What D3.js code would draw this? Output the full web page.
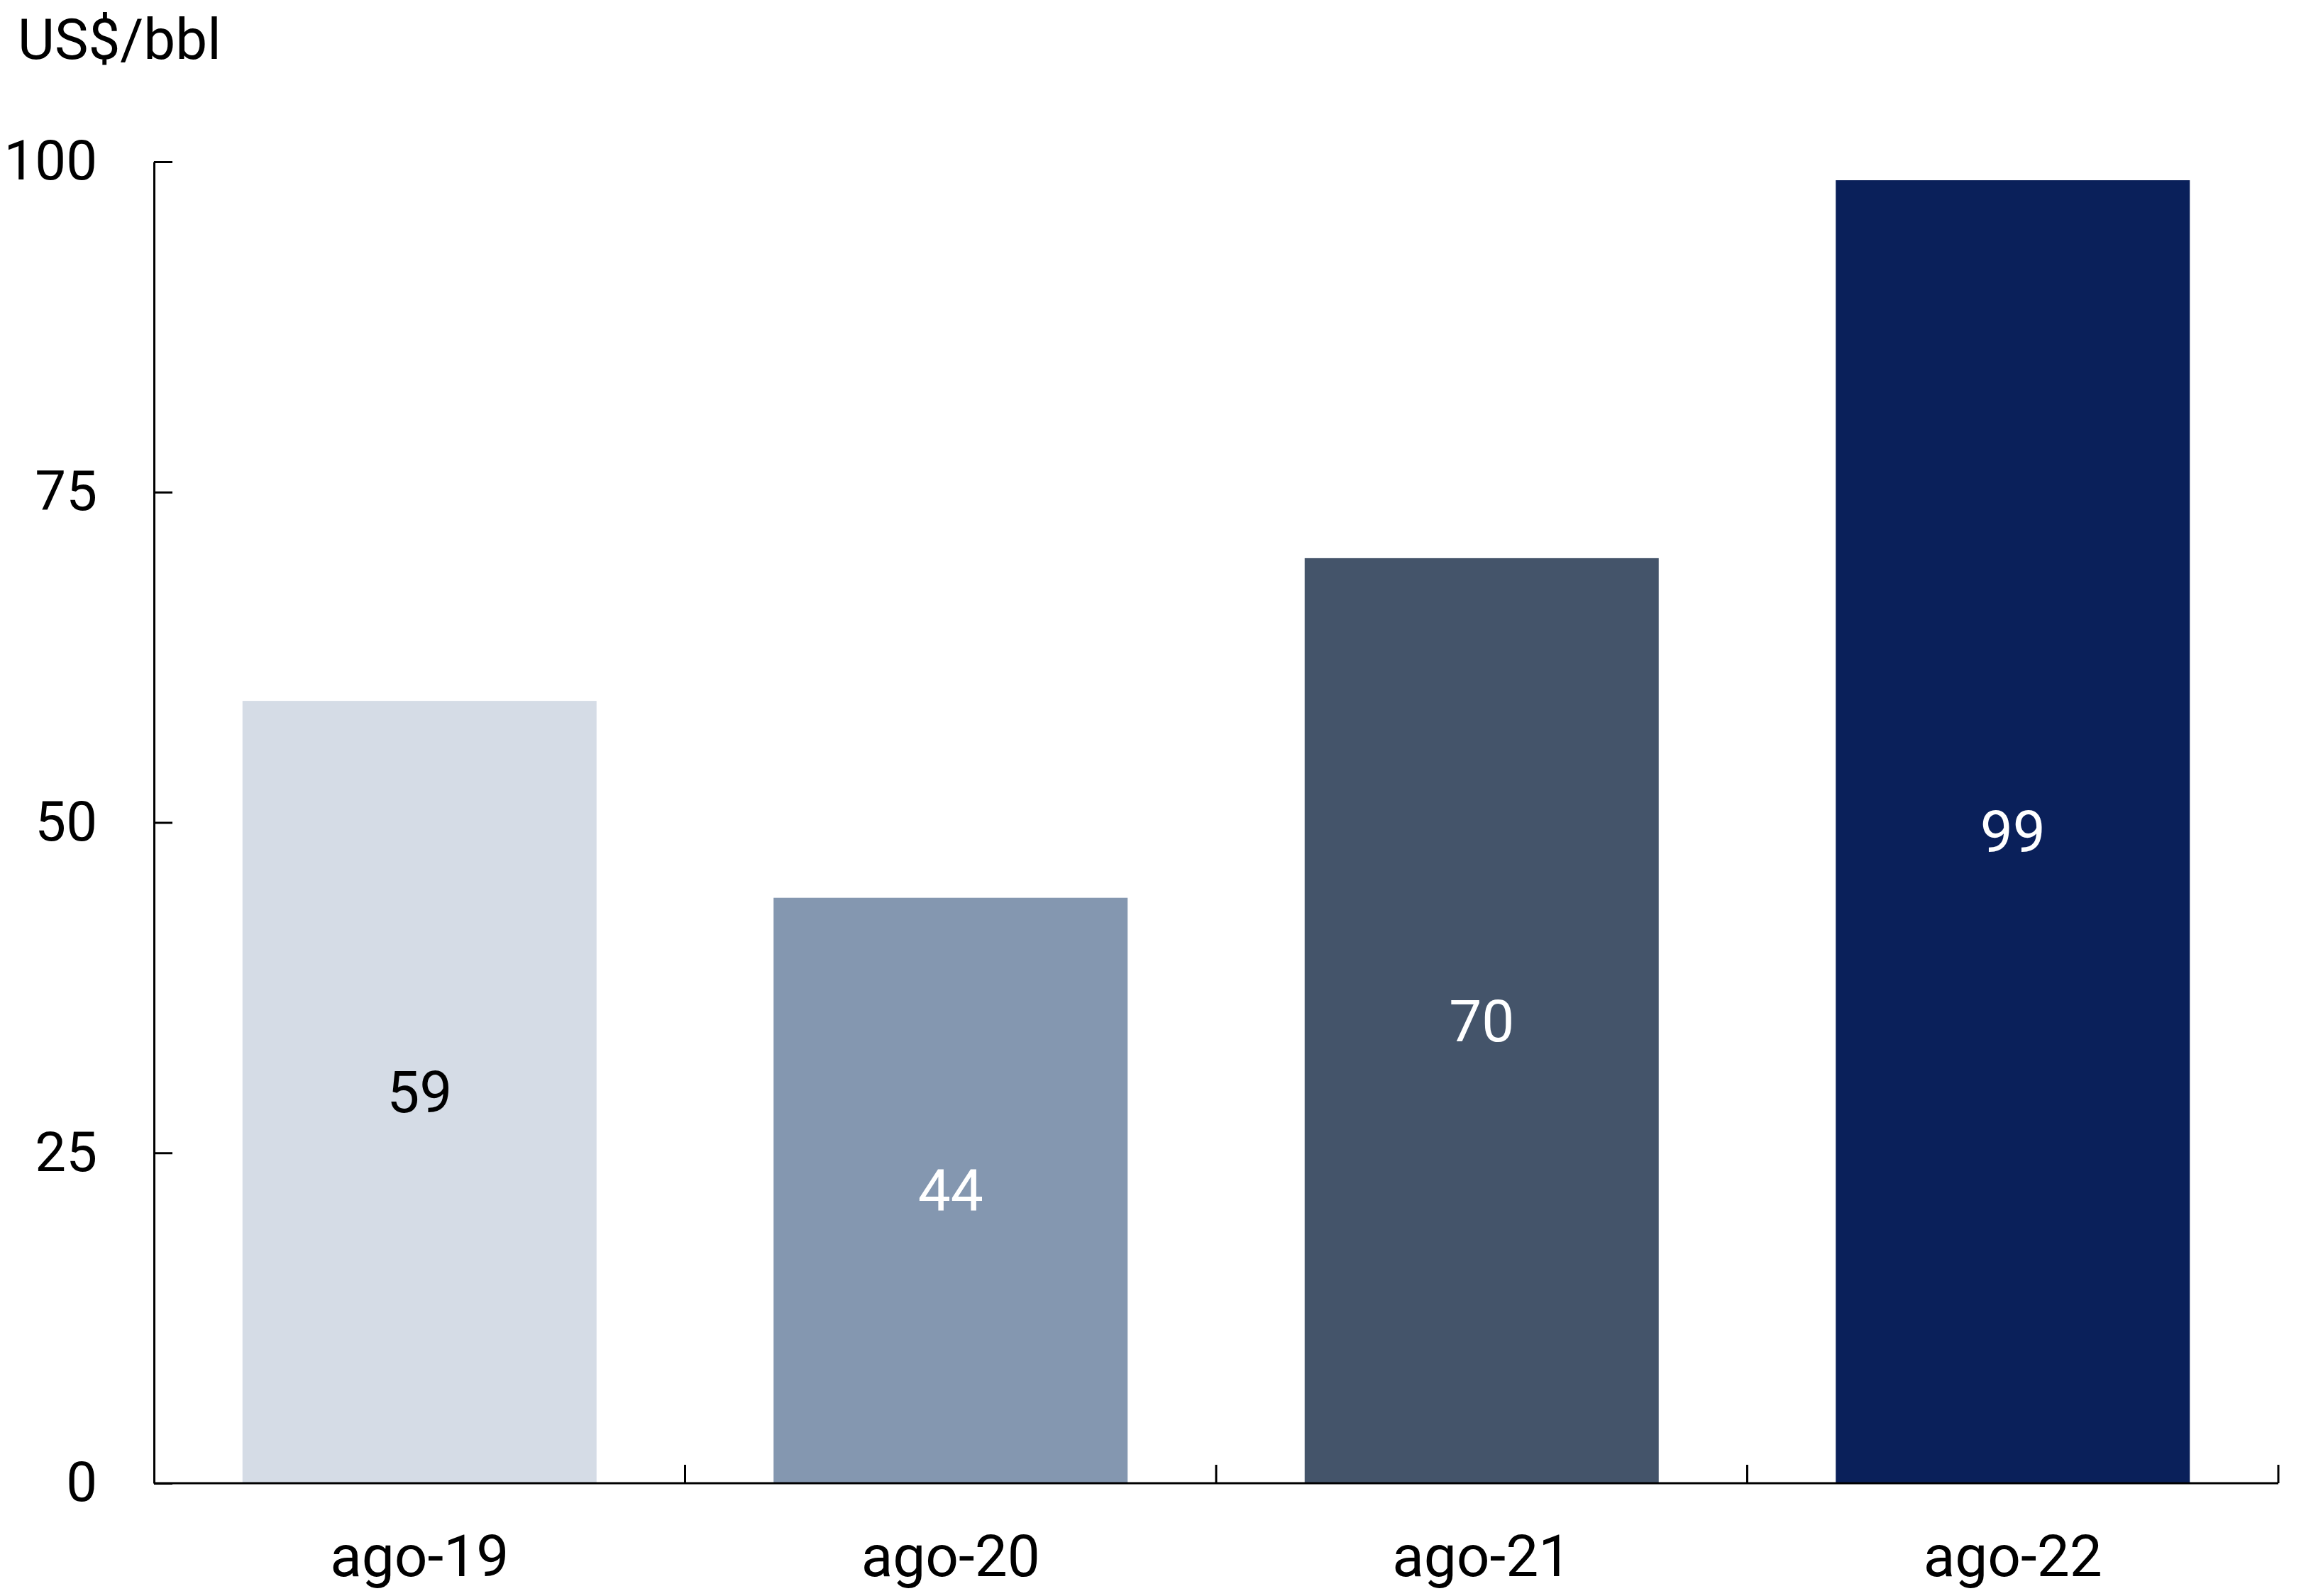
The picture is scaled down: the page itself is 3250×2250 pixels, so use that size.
<!DOCTYPE html>
<html>
<head>
<meta charset="utf-8">
<script src="https://cdn.jsdelivr.net/npm/d3@7"></script>
<style>
  html, body { margin: 0; padding: 0; background: #ffffff; }
  svg { display: block; }
  text { font-family: Roboto, "Noto Sans", sans-serif; }
</style>
</head>
<body>
<svg id="chart" width="3250" height="2250"></svg>
<script>
const categories = ["ago-19", "ago-20", "ago-21", "ago-22"];
const values = [59.2, 44.3, 70.0, 98.6];
const valueLabels = ["59", "44", "70", "99"];
const barColors = ["#d5dce6", "#8497b0", "#44546a", "#0a205a"];
const labelColors = ["#000000", "#ffffff", "#ffffff", "#ffffff"];
const yTicks = [0, 25, 50, 75, 100];
const unitLabel = "US$/bbl";

const svg = d3.select("#chart");
const margin = { left: 217, right: 39, top: 228, bottom: 159 };
const W = 3250, H = 2250;

const x = d3.scaleBand()
  .domain(categories)
  .range([margin.left, W - margin.right])
  .paddingInner(1/3)
  .paddingOuter(1/6);

const y = d3.scaleLinear()
  .domain([0, 100])
  .range([H - margin.bottom, margin.top]);

// bars
svg.append("g").selectAll("rect")
  .data(categories)
  .join("rect")
  .attr("x", d => x(d))
  .attr("width", x.bandwidth())
  .attr("y", (d, i) => y(values[i]))
  .attr("height", (d, i) => y(0) - y(values[i]))
  .attr("fill", (d, i) => barColors[i]);

// value labels
svg.append("g").selectAll("text")
  .data(categories)
  .join("text")
  .attr("x", d => x(d) + x.bandwidth() / 2)
  .attr("y", (d, i) => (y(values[i]) + y(0)) / 2)
  .attr("dy", "0.35em")
  .attr("text-anchor", "middle")
  .attr("font-size", 82)
  .attr("fill", (d, i) => labelColors[i])
  .text((d, i) => valueLabels[i]);

// y axis (ticks pointing inward)
const yAxis = svg.append("g")
  .attr("transform", `translate(${margin.left},0)`)
  .call(d3.axisLeft(y).tickValues(yTicks).tickSize(-26).tickPadding(80).tickSizeOuter(0));
yAxis.select(".domain").attr("stroke", "#000").attr("stroke-width", 3);
yAxis.selectAll(".tick line").attr("stroke", "#000").attr("stroke-width", 3);
yAxis.selectAll(".tick text")
  .attr("font-size", 78)
  .attr("font-family", "Roboto, sans-serif")
  .attr("fill", "#000");

// x axis baseline
const x0 = margin.left, x1 = W - margin.right;
svg.append("line")
  .attr("x1", x0).attr("x2", x1)
  .attr("y1", y(0)).attr("y2", y(0))
  .attr("stroke", "#000").attr("stroke-width", 3);

// x boundary ticks (pointing up)
const boundaries = categories.map((d, i) => x.range()[0] + x.step() * (i + 1));
svg.append("g").selectAll("line")
  .data(boundaries)
  .join("line")
  .attr("x1", d => d).attr("x2", d => d)
  .attr("y1", y(0)).attr("y2", y(0) - 26)
  .attr("stroke", "#000").attr("stroke-width", 3);

// x category labels
svg.append("g").selectAll("text")
  .data(categories)
  .join("text")
  .attr("x", d => x(d) + x.bandwidth() / 2)
  .attr("y", 2222)
  .attr("text-anchor", "middle")
  .attr("font-size", 82)
  .attr("fill", "#000")
  .text(d => d);

// unit label
svg.append("text")
  .attr("x", 25)
  .attr("y", 83)
  .attr("font-size", 80)
  .attr("fill", "#000")
  .text(unitLabel);
</script>
</body>
</html>
